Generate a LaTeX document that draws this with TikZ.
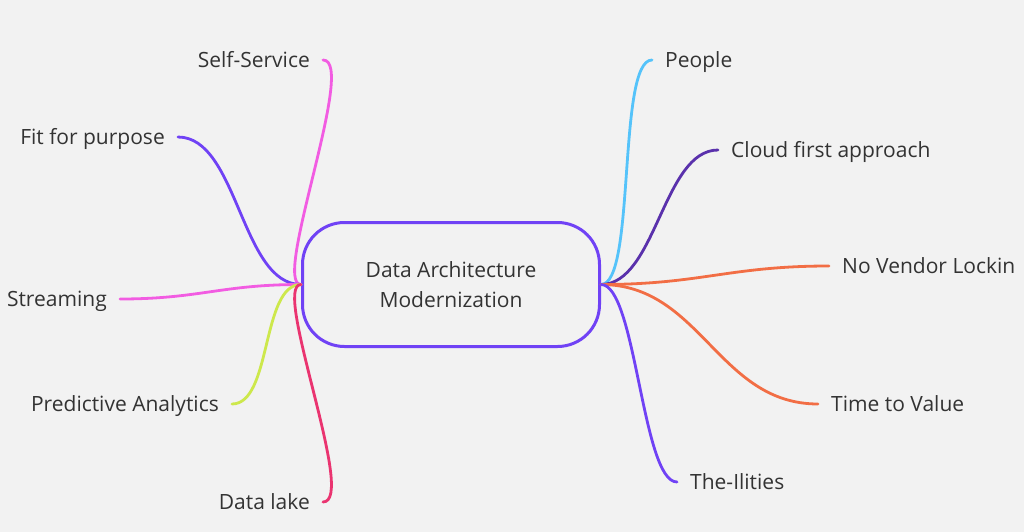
\documentclass[tikz,border=0pt]{standalone}
\usepackage{fontspec}
\setmainfont{Open Sans}
\definecolor{bg}{HTML}{F2F2F2}
\definecolor{txt}{HTML}{333333}
\definecolor{cviolet}{HTML}{7042F5}
\definecolor{cpink}{HTML}{F25CE2}
\definecolor{clime}{HTML}{CDE84C}
\definecolor{ccrimson}{HTML}{EA3470}
\definecolor{cblue}{HTML}{55C3FA}
\definecolor{cdpurple}{HTML}{5A31AC}
\definecolor{corange}{HTML}{F26E45}
\begin{document}
\begin{tikzpicture}[x=1pt,y=-1pt,
  lbl/.style={font=\fontsize{21}{24}\selectfont, text=txt, inner xsep=13pt, inner ysep=0pt, text height=14.2pt, text depth=0pt},
  branch/.style={line width=2.8pt, line cap=round},
  centerbox/.style={draw=cviolet, line width=3pt, rounded corners=42pt, minimum width=297pt, minimum height=124pt, align=center, text=txt, font=\fontsize{21}{30}\selectfont}
]
\fill[bg] (0,0) rectangle (1024,532);
\useasboundingbox (0,0) rectangle (1024,532);

\node[centerbox] (box) at (451,284.5) {Data Architecture\\Modernization};

% left labels
\node[lbl, anchor=east] (self) at (323,60) {Self-Service};
\node[lbl, anchor=east] (fit) at (178,137) {Fit for purpose};
\node[lbl, anchor=east] (stream) at (120,299) {Streaming};
\node[lbl, anchor=east] (pred) at (232,404) {Predictive Analytics};
\node[lbl, anchor=east] (lake) at (323,502) {Data lake};
% right labels
\node[lbl, anchor=west] (people) at (652,60) {People};
\node[lbl, anchor=west] (cloud) at (718,150) {Cloud first approach};
\node[lbl, anchor=west] (vendor) at (829,266) {No Vendor Lockin};
\node[lbl, anchor=west] (ttv) at (818,404) {Time to Value};
\node[lbl, anchor=west] (ilities) at (677,482) {The-Ilities};

% left connectors
\draw[branch, cpink] (box.west) .. controls +(-30,0) and +(35,0) .. (self.east);
\draw[branch, cviolet] (box.west) .. controls +(-60,0) and +(60,0) .. (fit.east);
\draw[branch, cpink] (box.west) .. controls +(-80,0) and +(80,0) .. (stream.east);
\draw[branch, clime] (box.west) .. controls +(-40,0) and +(40,0) .. (pred.east);
\draw[branch, ccrimson] (box.west) .. controls +(-30,0) and +(35,0) .. (lake.east);
% right connectors
\draw[branch, cblue] (box.east) .. controls +(35,0) and +(-35,0) .. (people.west);
\draw[branch, cdpurple] (box.east) .. controls +(55,0) and +(-55,0) .. (cloud.west);
\draw[branch, corange] (box.east) .. controls +(100,0) and +(-100,0) .. (vendor.west);
\draw[branch, corange] (box.east) .. controls +(100,0) and +(-100,0) .. (ttv.west);
\draw[branch, cviolet] (box.east) .. controls +(35,0) and +(-35,0) .. (ilities.west);
\end{tikzpicture}
\end{document}
